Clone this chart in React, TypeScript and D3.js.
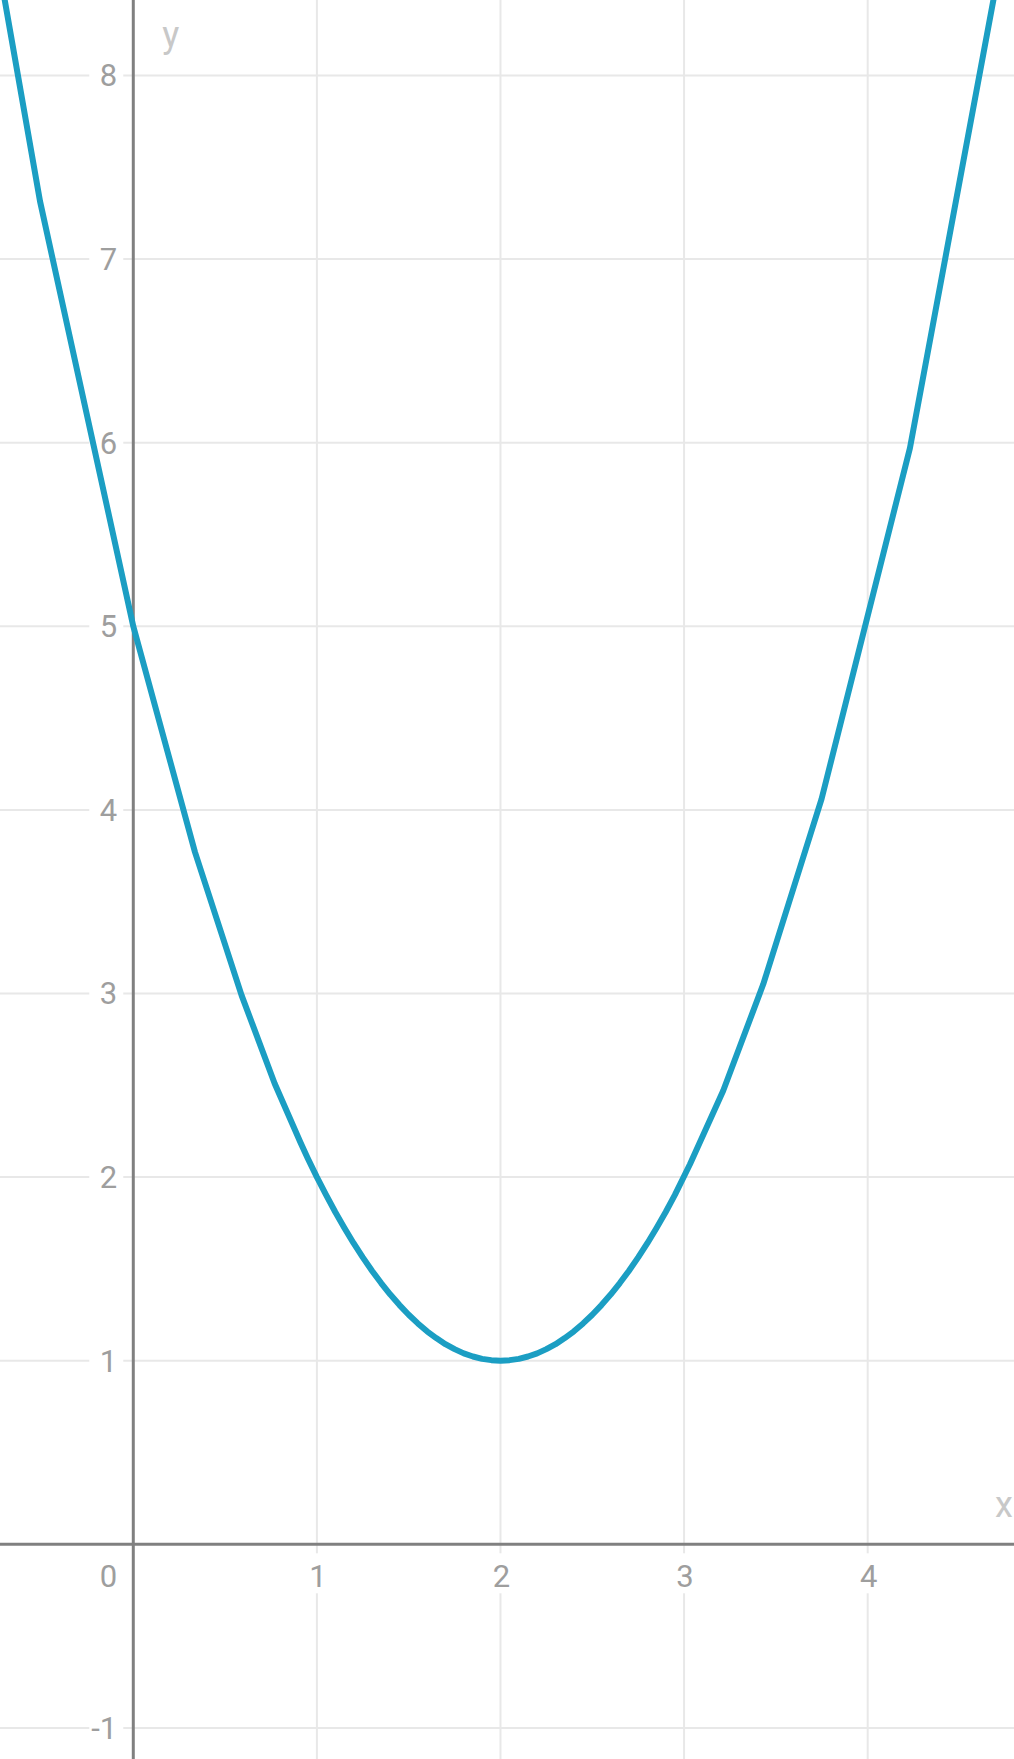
import React from "react";
import * as d3 from "d3";

const W = 1014;
const H = 1759;

// Curve vertices: [x, y]
const curveX = [-1.23, -0.508, 0.0, 0.336, 0.59, 0.77, 0.91, 0.95, 1.0, 1.05, 1.1, 1.15, 1.2, 1.25, 1.3, 1.35, 1.4, 1.45, 1.5, 1.55, 1.6, 1.65, 1.7, 1.75, 1.8, 1.85, 1.9, 1.95, 2.0, 2.05, 2.1, 2.15, 2.2, 2.25, 2.3, 2.35, 2.4, 2.45, 2.5, 2.55, 2.6, 2.65, 2.7, 2.75, 2.8, 2.85, 2.9, 2.95, 3.032, 3.213, 3.431, 3.749, 4.23, 5.1];
const curveY = [11.43, 7.315, 5.0, 3.77, 2.99, 2.51, 2.19, 2.103, 2.0, 1.903, 1.81, 1.723, 1.64, 1.563, 1.49, 1.423, 1.36, 1.303, 1.25, 1.203, 1.16, 1.123, 1.09, 1.063, 1.04, 1.023, 1.01, 1.003, 1.0, 1.003, 1.01, 1.023, 1.04, 1.063, 1.09, 1.123, 1.16, 1.203, 1.25, 1.303, 1.36, 1.423, 1.49, 1.563, 1.64, 1.723, 1.81, 1.903, 2.07, 2.47, 3.05, 4.06, 5.97, 10.64];

const xTicks = [1, 2, 3, 4];
const yTicks = [-1, 1, 2, 3, 4, 5, 6, 7, 8];
const xDomain = [-0.726, 4.797];
const yDomain = [-1.1694, 8.4112];

export default function App() {
  const x = d3.scaleLinear().domain(xDomain).range([0, W]);
  const y = d3.scaleLinear().domain(yDomain).range([H, 0]);
  const pts: [number, number][] = curveX.map((v, i) => [v, curveY[i]]);
  const line = d3
    .line<[number, number]>()
    .x((d) => x(d[0]))
    .y((d) => y(d[1]))
    .curve(d3.curveLinear);

  const x0 = x(0);
  const y0 = y(0);
  const labelColor = "#9e9e9e";
  const tickStyle = { fontFamily: "Roboto", fontSize: "31px" };
  const axisStyle = { fontFamily: "Roboto", fontSize: "36px" };

  return (
    <svg
      width={W}
      height={H}
      style={{ position: "absolute", left: 0, top: 0, display: "block", background: "#fff" }}
    >
      <rect x={0} y={0} width={W} height={H} fill="#fff" />
      {/* grid */}
      {xTicks.map((t) => (
        <line key={"gx" + t} x1={x(t)} x2={x(t)} y1={0} y2={H} stroke="#e8e8e8" strokeWidth={2} />
      ))}
      {yTicks.map((t) => (
        <line key={"gy" + t} x1={0} x2={W} y1={y(t)} y2={y(t)} stroke="#e8e8e8" strokeWidth={2} />
      ))}
      {/* label backgrounds */}
      {yTicks.map((t) => (
        <rect key={"by" + t} x={x0 - 44} y={y(t) - 16} width={34} height={32} fill="#fff" />
      ))}
      {xTicks.map((t) => (
        <rect key={"bx" + t} x={x(t) - 14} y={y0 + 9} width={28} height={40} fill="#fff" />
      ))}
      {/* axes */}
      <line x1={0} x2={W} y1={y0} y2={y0} stroke="#808080" strokeWidth={3} />
      <line x1={x0} x2={x0} y1={0} y2={H} stroke="#808080" strokeWidth={3} />
      {/* tick labels */}
      {yTicks.map((t) => (
        <text key={"ly" + t} x={x0 - 16} y={y(t) + 11} textAnchor="end" style={tickStyle} fill={labelColor}>
          {String(t)}
        </text>
      ))}
      {xTicks.map((t) => (
        <text key={"lx" + t} x={x(t) + 1} y={y0 + 43} textAnchor="middle" style={tickStyle} fill={labelColor}>
          {String(t)}
        </text>
      ))}
      <text x={x0 - 16} y={y0 + 43} textAnchor="end" style={tickStyle} fill={labelColor}>
        0
      </text>
      {/* axis names */}
      <text x={x0 + 29} y={47} style={axisStyle} fill="#c8c8c8">
        y
      </text>
      <text x={995} y={1517} style={axisStyle} fill="#c8c8c8">
        x
      </text>
      {/* curve */}
      <path d={line(pts) || ""} fill="none" stroke="#1b9ec3" strokeWidth={6} strokeLinejoin="round" />
    </svg>
  );
}
